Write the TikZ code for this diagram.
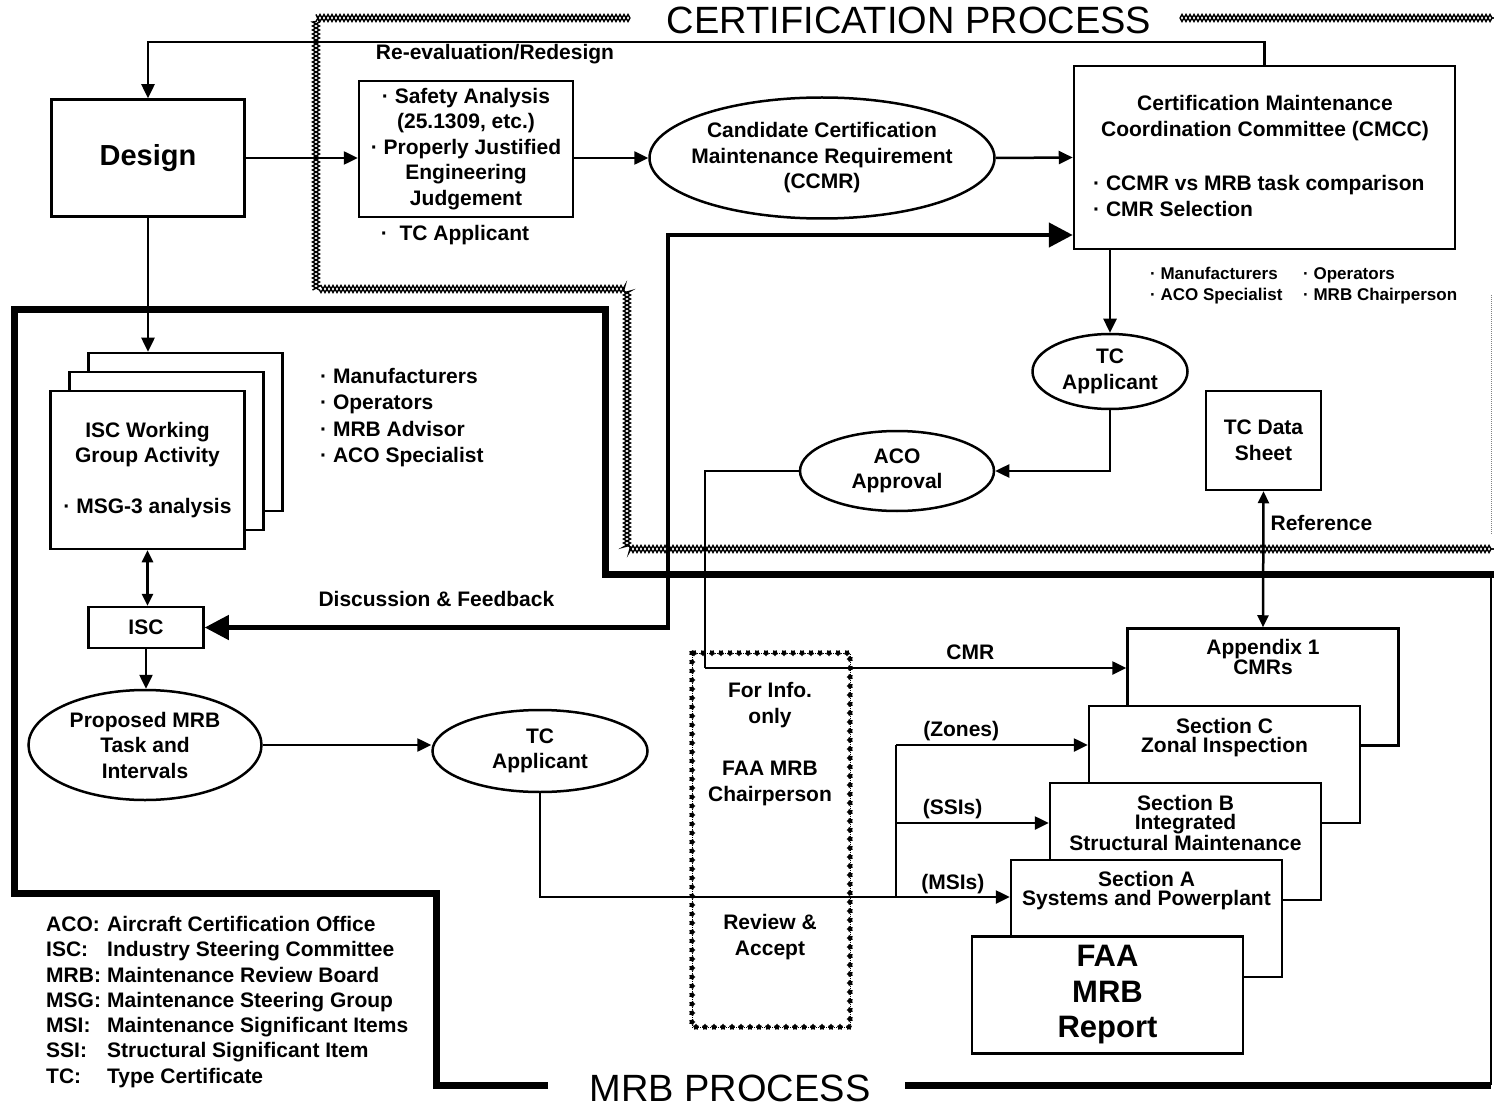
\documentclass[tikz,border=0pt]{standalone}
\usepackage{fontspec}
\setmainfont{Liberation Sans}
\usetikzlibrary{shapes.geometric, arrows.meta, positioning, decorations.pathmorphing, decorations.shapes}
\newcommand{\txtfont}{\bfseries\fontsize{21}{25.5}\selectfont}
\newcommand{\smallfont}{\bfseries\fontsize{17}{21}\selectfont}
\newcommand{\sheetfont}{\bfseries\fontsize{21}{19.5}\selectfont}
\newcommand{\titlefont}{\fontsize{38}{40}\selectfont}
\tikzstyle{block} = [rectangle, draw=black, line width=2.5pt, fill=white, align=center,
inner sep=0pt, font=\txtfont]
\tikzstyle{oval} = [ellipse, draw=black, line width=2.5pt, fill=white, align=center,
inner sep=0pt, font=\txtfont]
\tikzstyle{sheet} = [rectangle, draw=black, line width=2.5pt, fill=white,
minimum width=271pt, minimum height=117pt, align=center]
\tikzstyle{txt} = [inner sep=0pt, align=center, font=\txtfont]
\tikzstyle{wire} = [line width=2.5pt]
\tikzstyle{arrow} = [line width=2.5pt, -{Triangle[length=14pt,width=13pt]}]
\tikzstyle{dblarrow} = [line width=2.5pt, {Triangle[length=12pt,width=11pt]}-{Triangle[length=12pt,width=11pt]}]
\tikzstyle{bigarrow} = [line width=4.5pt, {Triangle[length=24pt,width=24pt]}-{Triangle[length=24pt,width=24pt]}]
\tikzstyle{mrbedge} = [line width=7pt]
\tikzstyle{certedge} = [preaction={draw, line width=1.4pt, decorate, decoration={zigzag,
segment length=8pt, amplitude=3.5pt}}, postaction={draw, line width=1.4pt, decorate,
decoration={zigzag, segment length=8pt, amplitude=-3.5pt}}]
\tikzstyle{starbox} = [draw, densely dotted, line width=1pt, postaction={fill=black, decorate,
decoration={shape backgrounds, shape=star, shape size=6pt, shape sep=9pt}}]
\begin{document}
\begin{tikzpicture}[x=1pt, y=-1pt]
\fill[white] (0,0) rectangle (1494,1107);
\useasboundingbox (0,0) rectangle (1494,1107);

% process frames
\path[certedge] (630,18) -- (316,18) -- (316,289) -- (627,289) -- (627,549) -- (1494,549);
\path[certedge] (1180,18) -- (1494,18);
\draw[densely dotted, line width=1pt, gray] (1491,295) -- (1491,535);
\draw[mrbedge] (548,1085) -- (436,1085) -- (436,893) -- (14,893) -- (14,310) -- (605,310)
  -- (605,574) -- (1494,574);
\draw[mrbedge] (905,1085) -- (1491,1085);
\draw[line width=2.5pt] (1491,574) -- (1491,1085);
\node (certtitle) at (909,20) {\titlefont CERTIFICATION PROCESS};
\node (mrbtitle) at (730,1088) {\titlefont MRB PROCESS};

% certification process
\node (design) [block, minimum width=193pt, minimum height=117pt,
  font=\bfseries\fontsize{29}{34}\selectfont] at (148,158) {Design};
\node (safety) [block, minimum width=214pt, minimum height=136pt] at (466,149)
  {· Safety Analysis\\(25.1309, etc.)\\· Properly Justified\\Engineering\\Judgement};
\node (ccmr) [oval, inner xsep=-30pt, minimum width=345pt, minimum height=121pt] at (822,158)
  {Candidate Certification\\Maintenance Requirement\\(CCMR)};
\node (cmcc) [block, minimum width=381pt, minimum height=183pt] at (1264.5,157.5) {};
\node (cmcchead) [txt] at (1265,118) {Certification Maintenance\\Coordination Committee (CMCC)};
\node (cmcctask) [txt, anchor=west, align=left] at (1093,196)
  {· CCMR vs MRB task comparison\\· CMR Selection};
\node (redesign) [txt] at (495,54) {Re-evaluation/Redesign};
\node (tcnote) [txt] at (455,235) {·\ \ TC Applicant};
\node (cmccwho1) [txt, anchor=west, align=left, font=\smallfont] at (1150,286)
  {· Manufacturers\\· ACO Specialist};
\node (cmccwho2) [txt, anchor=west, align=left, font=\smallfont] at (1303,286)
  {· Operators\\· MRB Chairperson};
\node (tcapp) [oval, minimum width=155pt, minimum height=75pt] at (1110,371.5) {TC\\Applicant};
\node (aco) [oval, minimum width=194pt, minimum height=80pt] at (897,471) {ACO\\Approval};
\node (tcdata) [block, minimum width=115pt, minimum height=99pt] at (1263.5,440.5) {TC Data\\Sheet};

\coordinate (redo) at (148,42);
\draw [arrow] (design.0) -- (design.0 -| safety.180);
\draw [arrow] (safety.0 |- ccmr.180) -- (ccmr.180);
\draw [arrow] (ccmr.0) -- (cmcc.180);
\draw [arrow] (cmcc.90) |- (redo) -- (design.90);
\draw [arrow] (tcapp.90 |- cmcc.270) -- (tcapp.90);
\draw [arrow] (tcapp.270) |- (aco.0);

% MRB process
\node (iscwg3) [block, minimum width=194pt, minimum height=158pt] at (185.5,432) {};
\node (iscwg2) [block, minimum width=194pt, minimum height=158pt] at (166.5,451) {};
\node (iscwg1) [block, minimum width=194pt, minimum height=158pt] at (147.5,470)
  {ISC Working\\Group Activity\\[25.5pt]· MSG-3 analysis};
\node (iscwho) [txt, anchor=west, align=left, font=\bfseries\fontsize{21}{26.3}\selectfont]
  at (320,417.5) {· Manufacturers\\· Operators\\· MRB Advisor\\· ACO Specialist};
\node (isc) [block, minimum width=115pt, minimum height=41pt] at (146,627.5) {ISC};
\node (proposed) [oval, minimum width=233pt, minimum height=110pt] at (145,745)
  {Proposed MRB\\Task and\\Intervals};
\node (tcreview) [oval, minimum width=215pt, minimum height=82pt] at (540,751) {TC\\Applicant};

\path[starbox] (692,653) rectangle (850,1027);
\node (infotxt) [txt] at (770,705) {For Info.\\only};
\node (chairtxt) [txt] at (770,783.5) {FAA MRB\\Chairperson};
\node (accepttxt) [txt] at (770,937) {Review \&\\Accept};

\node (appx) [sheet] at (1263,687) {};
\node (appxtxt) [txt, font=\sheetfont, below=12pt of appx.north] {Appendix 1\\CMRs};
\node (secC) [sheet] at (1224.5,764.5) {};
\node (secCtxt) [txt, font=\sheetfont, below=13pt of secC.north] {Section C\\Zonal Inspection};
\node (secB) [sheet] at (1185.5,841.5) {};
\node (secBtxt) [txt, font=\sheetfont, below=13pt of secB.north]
  {Section B\\Integrated\\Structural Maintenance};
\node (secA) [sheet] at (1146.5,918.5) {};
\node (secAtxt) [txt, font=\sheetfont, below=12pt of secA.north] {Section A\\Systems and Powerplant};
\node (report) [sheet, font=\bfseries\fontsize{31}{35.5}\selectfont] at (1107.5,995) {FAA\\MRB\\Report};

\node (legend) [txt, anchor=north west, align=left, font=\bfseries\fontsize{21}{25.3}\selectfont]
  at (46,916) {\makebox[61pt][l]{ACO:}Aircraft Certification Office\\
  \makebox[61pt][l]{ISC:}Industry Steering Committee\\
  \makebox[61pt][l]{MRB:}Maintenance Review Board\\
  \makebox[61pt][l]{MSG:}Maintenance Steering Group\\
  \makebox[61pt][l]{MSI:}Maintenance Significant Items\\
  \makebox[61pt][l]{SSI:}Structural Significant Item\\
  \makebox[61pt][l]{TC:}Type Certificate};

\coordinate (dfup) at (668,235);
\coordinate (cmrturn) at (705,668);
\coordinate (msi) at (896,897);
\coordinate (ssi) at (896,823);
\coordinate (zone) at (896,745);
\draw [arrow] (design.270) -- (design.270 |- iscwg3.90);
\draw [dblarrow] (iscwg1.270) -- (iscwg1.270 |- isc.90);
\draw [arrow] (isc.270) -- (isc.270 |- proposed.90);
\draw [arrow] (proposed.0) -- (proposed.0 -| tcreview.180);
\draw [bigarrow] (isc.0) -| node[txt, above=19pt, pos=0.25]{Discussion \& Feedback} (dfup)
  -- (dfup -| cmcc.180);
\draw [wire] (aco.180) -| (cmrturn);
\draw [arrow] (cmrturn) -- node[txt, above=7pt, pos=0.63]{CMR} (cmrturn -| appx.180);
\draw [dblarrow] (tcdata.270) -- node[txt, right=6pt, pos=0.23]{Reference} (appx.90);
\draw [wire] (tcreview.270) |- (msi);
\draw [wire] (msi) -- (zone);
\draw [arrow] (msi) -- node[txt, above=2pt]{(MSIs)} (msi -| secA.180);
\draw [arrow] (ssi) -- node[txt, above=3pt, pos=0.37]{(SSIs)} (ssi -| secB.180);
\draw [arrow] (zone) -- node[txt, above=3pt, pos=0.34]{(Zones)} (zone -| secC.180);
\end{tikzpicture}
\end{document}
